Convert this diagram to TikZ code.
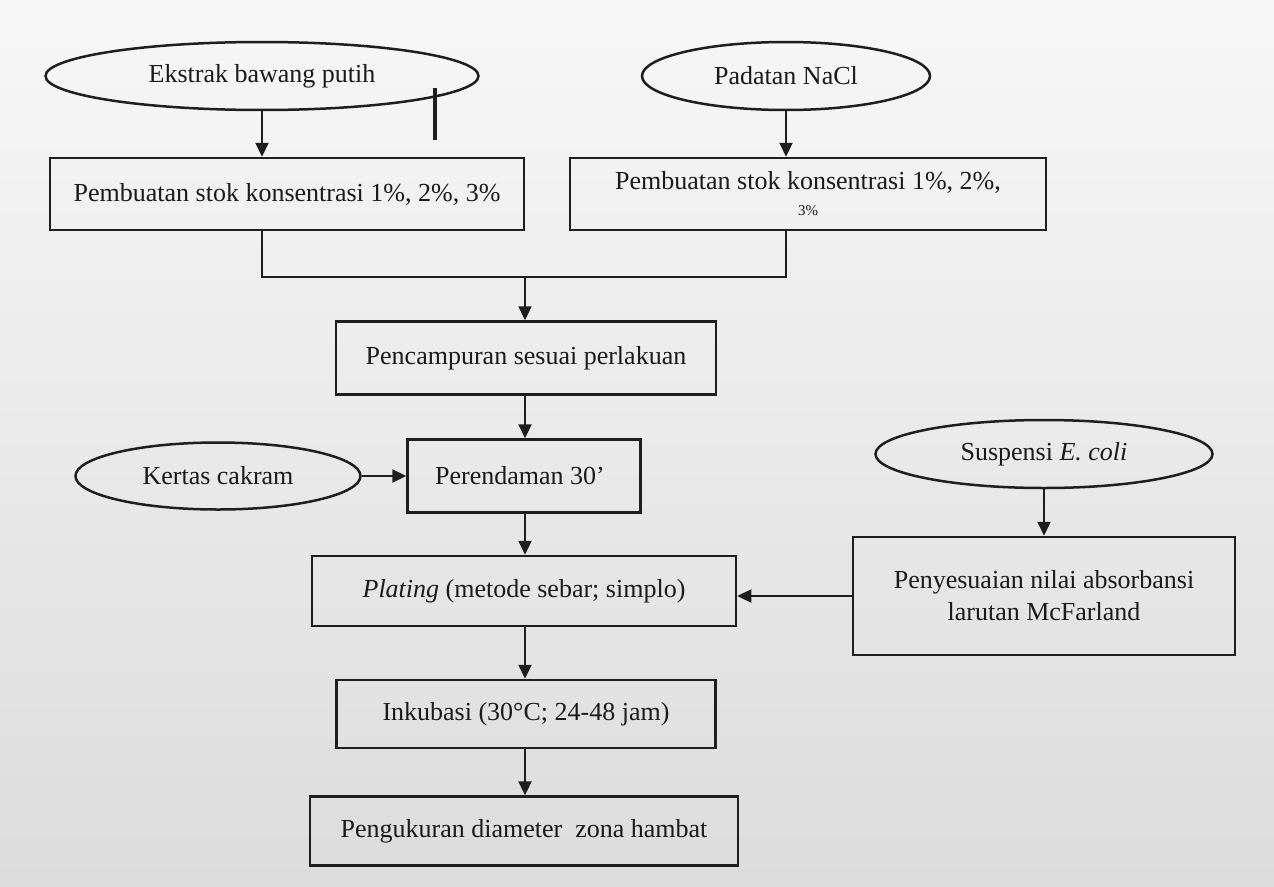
\documentclass[tikz,border=0pt]{standalone}
\usepackage{fontspec}
\setmainfont{Liberation Serif}
\usetikzlibrary{shapes.geometric,arrows.meta}
\definecolor{linec}{HTML}{1E1E1E}
\definecolor{txt}{HTML}{1A1A1A}
\definecolor{bgtop}{HTML}{F7F7F7}
\definecolor{bgbot}{HTML}{DCDCDC}
\begin{document}
\begin{tikzpicture}[x=1pt,y=-1pt,
  box/.style={draw=linec, line width=2.5pt, rectangle, inner sep=0pt, text=txt, align=center, font=\fontsize{26}{32}\selectfont},
  oval/.style={draw=linec, line width=2.5pt, ellipse, inner sep=0pt, text=txt, font=\fontsize{26}{32}\selectfont},
  arr/.style={line width=2.3pt, draw=linec, -{Triangle[length=14pt,width=13pt]}},
  ln/.style={line width=2.3pt, draw=linec}]
\shade[top color=bgtop, bottom color=bgbot] (0,0) rectangle (1274,886);
\useasboundingbox (0,0) rectangle (1274,886);

\node[oval, minimum width=433pt, minimum height=68pt] (E1) at (262,76) {Ekstrak bawang putih};
\node[box, minimum width=474pt, minimum height=72pt] (B1) at (287,194) {Pembuatan stok konsentrasi 1\%, 2\%, 3\%};
\node[oval, minimum width=288pt, minimum height=68pt] (E2) at (786,76) {Padatan NaCl};
\node[box, minimum width=476pt, minimum height=72pt] (B2) at (808,194) {Pembuatan stok konsentrasi 1\%, 2\%,\\[-6pt]{\fontsize{15}{15}\selectfont 3\%}};
\node[box, minimum width=380pt, minimum height=73pt] (B3) at (526,358) {Pencampuran sesuai perlakuan};
\node[box, minimum width=233pt, minimum height=73pt] (B4) at (524,476) {\hspace*{-8pt}Perendaman 30’};
\node[oval, minimum width=285pt, minimum height=67pt] (E3) at (218,476) {Kertas cakram};
\node[box, minimum width=424pt, minimum height=70pt] (B5) at (524,591) {\textit{Plating} (metode sebar; simplo)};
\node[oval, minimum width=337pt, minimum height=68pt] (E4) at (1044,454) {Suspensi \textit{E. coli}};
\node[box, minimum width=382pt, minimum height=118pt] (B6) at (1044,596) {Penyesuaian nilai absorbansi\\larutan McFarland};
\node[box, minimum width=379pt, minimum height=68pt] (B7) at (526,714) {Inkubasi (30°C; 24-48 jam)};
\node[box, minimum width=428pt, minimum height=69pt] (B8) at (524,831) {Pengukuran diameter \ zona hambat};

\coordinate (m) at (525,277);

% stray mark
\draw[line width=3.5pt, linec] (435,88) -- (435,140);

\draw[arr] (E1.south) -- (E1.south |- B1.north);
\draw[arr] (E2.south) -- (E2.south |- B2.north);
\draw[ln] (E1.south |- B1.south) |- (m) -| (E2.south |- B2.south);
\draw[arr] (m) -- (m |- B3.north);
\draw[arr] (m |- B3.south) -- (m |- B4.north);
\draw[arr] (E3.east) -- (E3.east -| B4.west);
\draw[arr] (m |- B4.south) -- (m |- B5.north);
\draw[arr] (E4.south) -- (E4.south |- B6.north);
\draw[arr] (B6.west) -- (B6.west -| B5.east);
\draw[arr] (m |- B5.south) -- (m |- B7.north);
\draw[arr] (m |- B7.south) -- (m |- B8.north);
\end{tikzpicture}
\end{document}
